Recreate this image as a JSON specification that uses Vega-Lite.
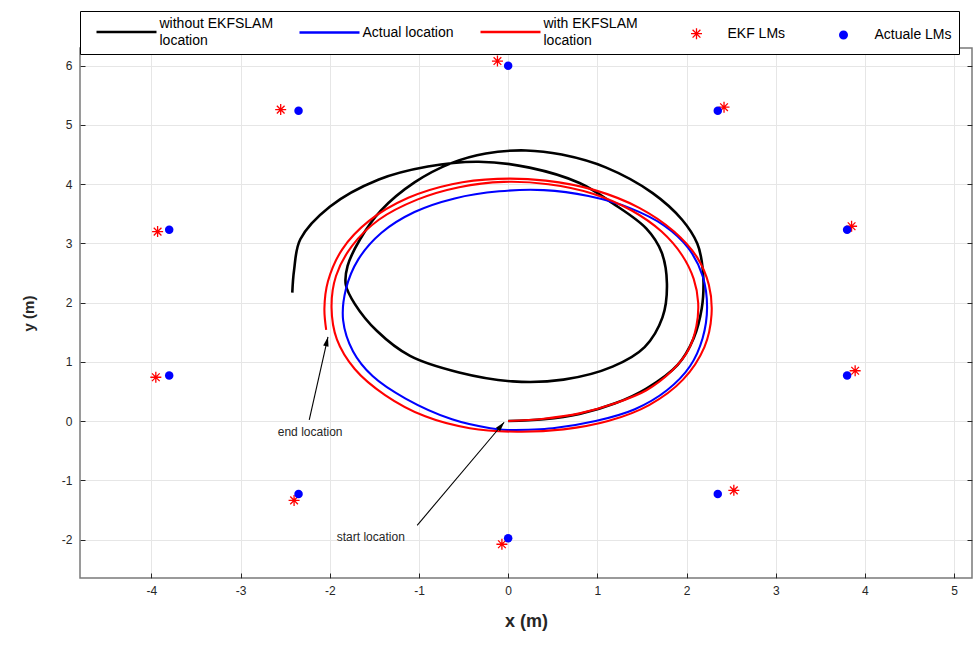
{
  "$schema": "https://vega.github.io/schema/vega-lite/v6.json",
  "width": 892,
  "height": 530,
  "autosize": {"type": "none"},
  "padding": {"left": 80, "top": 48, "right": 7, "bottom": 70},
  "background": "white",
  "config": {
    "font": "Liberation Sans",
    "view": {"stroke": "#7a7a7a", "strokeWidth": 1.5},
    "axis": {
      "labelFont": "Liberation Sans",
      "labelFontSize": 12,
      "labelColor": "#262626",
      "labelExpr": "'' + datum.value",
      "tickColor": "#262626",
      "tickSize": -5,
      "tickWidth": 1,
      "domain": false,
      "gridColor": "#e6e6e6",
      "gridWidth": 1,
      "titleFont": "Liberation Sans",
      "titleColor": "#262626",
      "titleFontWeight": "bold"
    }
  },
  "datasets": {
    "traj": [
      {"series": "without EKFSLAM location", "i": 0, "x": 0.0, "y": 0.0},
      {"series": "without EKFSLAM location", "i": 1, "x": 0.4, "y": 0.03},
      {"series": "without EKFSLAM location", "i": 2, "x": 0.8, "y": 0.12},
      {"series": "without EKFSLAM location", "i": 3, "x": 1.2, "y": 0.3},
      {"series": "without EKFSLAM location", "i": 4, "x": 1.55, "y": 0.55},
      {"series": "without EKFSLAM location", "i": 5, "x": 1.9, "y": 0.95},
      {"series": "without EKFSLAM location", "i": 6, "x": 2.08, "y": 1.4},
      {"series": "without EKFSLAM location", "i": 7, "x": 2.17, "y": 1.9},
      {"series": "without EKFSLAM location", "i": 8, "x": 2.19, "y": 2.35},
      {"series": "without EKFSLAM location", "i": 9, "x": 2.17, "y": 2.7},
      {"series": "without EKFSLAM location", "i": 10, "x": 2.12, "y": 3.0},
      {"series": "without EKFSLAM location", "i": 11, "x": 1.95, "y": 3.4},
      {"series": "without EKFSLAM location", "i": 12, "x": 1.62, "y": 3.85},
      {"series": "without EKFSLAM location", "i": 13, "x": 1.1, "y": 4.28},
      {"series": "without EKFSLAM location", "i": 14, "x": 0.6, "y": 4.5},
      {"series": "without EKFSLAM location", "i": 15, "x": 0.2, "y": 4.57},
      {"series": "without EKFSLAM location", "i": 16, "x": -0.25, "y": 4.52},
      {"series": "without EKFSLAM location", "i": 17, "x": -0.63, "y": 4.36},
      {"series": "without EKFSLAM location", "i": 18, "x": -1.05, "y": 4.03},
      {"series": "without EKFSLAM location", "i": 19, "x": -1.43, "y": 3.55},
      {"series": "without EKFSLAM location", "i": 20, "x": -1.66, "y": 3.07},
      {"series": "without EKFSLAM location", "i": 21, "x": -1.8, "y": 2.62},
      {"series": "without EKFSLAM location", "i": 22, "x": -1.82, "y": 2.3},
      {"series": "without EKFSLAM location", "i": 23, "x": -1.72, "y": 1.98},
      {"series": "without EKFSLAM location", "i": 24, "x": -1.47, "y": 1.52},
      {"series": "without EKFSLAM location", "i": 25, "x": -1.1, "y": 1.1},
      {"series": "without EKFSLAM location", "i": 26, "x": -0.55, "y": 0.82},
      {"series": "without EKFSLAM location", "i": 27, "x": 0.05, "y": 0.67},
      {"series": "without EKFSLAM location", "i": 28, "x": 0.62, "y": 0.7},
      {"series": "without EKFSLAM location", "i": 29, "x": 1.17, "y": 0.92},
      {"series": "without EKFSLAM location", "i": 30, "x": 1.53, "y": 1.25},
      {"series": "without EKFSLAM location", "i": 31, "x": 1.73, "y": 1.75},
      {"series": "without EKFSLAM location", "i": 32, "x": 1.78, "y": 2.32},
      {"series": "without EKFSLAM location", "i": 33, "x": 1.72, "y": 2.85},
      {"series": "without EKFSLAM location", "i": 34, "x": 1.55, "y": 3.25},
      {"series": "without EKFSLAM location", "i": 35, "x": 1.17, "y": 3.68},
      {"series": "without EKFSLAM location", "i": 36, "x": 0.8, "y": 4.02},
      {"series": "without EKFSLAM location", "i": 37, "x": 0.24, "y": 4.28},
      {"series": "without EKFSLAM location", "i": 38, "x": -0.33, "y": 4.38},
      {"series": "without EKFSLAM location", "i": 39, "x": -0.9, "y": 4.3},
      {"series": "without EKFSLAM location", "i": 40, "x": -1.45, "y": 4.08},
      {"series": "without EKFSLAM location", "i": 41, "x": -2.0, "y": 3.62},
      {"series": "without EKFSLAM location", "i": 42, "x": -2.33, "y": 3.07},
      {"series": "without EKFSLAM location", "i": 43, "x": -2.4, "y": 2.55},
      {"series": "without EKFSLAM location", "i": 44, "x": -2.42, "y": 2.17},
      {"series": "Actual location", "i": 0, "x": 0.0, "y": -0.15},
      {"series": "Actual location", "i": 1, "x": 0.5, "y": -0.12},
      {"series": "Actual location", "i": 2, "x": 0.98, "y": 0.0},
      {"series": "Actual location", "i": 3, "x": 1.42, "y": 0.2},
      {"series": "Actual location", "i": 4, "x": 1.78, "y": 0.52},
      {"series": "Actual location", "i": 5, "x": 2.04, "y": 0.93},
      {"series": "Actual location", "i": 6, "x": 2.18, "y": 1.4},
      {"series": "Actual location", "i": 7, "x": 2.23, "y": 1.92},
      {"series": "Actual location", "i": 8, "x": 2.18, "y": 2.45},
      {"series": "Actual location", "i": 9, "x": 2.02, "y": 2.92},
      {"series": "Actual location", "i": 10, "x": 1.75, "y": 3.3},
      {"series": "Actual location", "i": 11, "x": 1.36, "y": 3.6},
      {"series": "Actual location", "i": 12, "x": 0.9, "y": 3.8},
      {"series": "Actual location", "i": 13, "x": 0.4, "y": 3.9},
      {"series": "Actual location", "i": 14, "x": -0.1, "y": 3.88},
      {"series": "Actual location", "i": 15, "x": -0.6, "y": 3.76},
      {"series": "Actual location", "i": 16, "x": -1.05, "y": 3.53},
      {"series": "Actual location", "i": 17, "x": -1.42, "y": 3.18},
      {"series": "Actual location", "i": 18, "x": -1.68, "y": 2.73},
      {"series": "Actual location", "i": 19, "x": -1.82, "y": 2.22},
      {"series": "Actual location", "i": 20, "x": -1.85, "y": 1.7},
      {"series": "Actual location", "i": 21, "x": -1.74, "y": 1.18},
      {"series": "Actual location", "i": 22, "x": -1.52, "y": 0.76},
      {"series": "Actual location", "i": 23, "x": -1.15, "y": 0.38},
      {"series": "Actual location", "i": 24, "x": -0.63, "y": 0.03},
      {"series": "Actual location", "i": 25, "x": -0.2, "y": -0.12},
      {"series": "Actual location", "i": 26, "x": 0.0, "y": -0.15},
      {"series": "with EKFSLAM location", "i": 0, "x": 0.0, "y": 0.0},
      {"series": "with EKFSLAM location", "i": 1, "x": 0.4, "y": 0.04},
      {"series": "with EKFSLAM location", "i": 2, "x": 0.8, "y": 0.13},
      {"series": "with EKFSLAM location", "i": 3, "x": 1.2, "y": 0.3},
      {"series": "with EKFSLAM location", "i": 4, "x": 1.55, "y": 0.52},
      {"series": "with EKFSLAM location", "i": 5, "x": 1.83, "y": 0.84},
      {"series": "with EKFSLAM location", "i": 6, "x": 2.02, "y": 1.2},
      {"series": "with EKFSLAM location", "i": 7, "x": 2.11, "y": 1.6},
      {"series": "with EKFSLAM location", "i": 8, "x": 2.13, "y": 2.0},
      {"series": "with EKFSLAM location", "i": 9, "x": 2.08, "y": 2.4},
      {"series": "with EKFSLAM location", "i": 10, "x": 1.95, "y": 2.8},
      {"series": "with EKFSLAM location", "i": 11, "x": 1.72, "y": 3.2},
      {"series": "with EKFSLAM location", "i": 12, "x": 1.38, "y": 3.56},
      {"series": "with EKFSLAM location", "i": 13, "x": 0.95, "y": 3.84},
      {"series": "with EKFSLAM location", "i": 14, "x": 0.45, "y": 4.0},
      {"series": "with EKFSLAM location", "i": 15, "x": -0.05, "y": 4.04},
      {"series": "with EKFSLAM location", "i": 16, "x": -0.55, "y": 3.95},
      {"series": "with EKFSLAM location", "i": 17, "x": -1.02, "y": 3.74},
      {"series": "with EKFSLAM location", "i": 18, "x": -1.45, "y": 3.4},
      {"series": "with EKFSLAM location", "i": 19, "x": -1.75, "y": 2.96},
      {"series": "with EKFSLAM location", "i": 20, "x": -1.93, "y": 2.45},
      {"series": "with EKFSLAM location", "i": 21, "x": -1.98, "y": 1.92},
      {"series": "with EKFSLAM location", "i": 22, "x": -1.92, "y": 1.38},
      {"series": "with EKFSLAM location", "i": 23, "x": -1.72, "y": 0.88},
      {"series": "with EKFSLAM location", "i": 24, "x": -1.38, "y": 0.44},
      {"series": "with EKFSLAM location", "i": 25, "x": -0.93, "y": 0.08},
      {"series": "with EKFSLAM location", "i": 26, "x": -0.43, "y": -0.12},
      {"series": "with EKFSLAM location", "i": 27, "x": 0.1, "y": -0.18},
      {"series": "with EKFSLAM location", "i": 28, "x": 0.62, "y": -0.14},
      {"series": "with EKFSLAM location", "i": 29, "x": 1.12, "y": 0.0},
      {"series": "with EKFSLAM location", "i": 30, "x": 1.58, "y": 0.27},
      {"series": "with EKFSLAM location", "i": 31, "x": 1.96, "y": 0.7},
      {"series": "with EKFSLAM location", "i": 32, "x": 2.2, "y": 1.25},
      {"series": "with EKFSLAM location", "i": 33, "x": 2.28, "y": 1.8},
      {"series": "with EKFSLAM location", "i": 34, "x": 2.25, "y": 2.3},
      {"series": "with EKFSLAM location", "i": 35, "x": 2.12, "y": 2.76},
      {"series": "with EKFSLAM location", "i": 36, "x": 1.86, "y": 3.2},
      {"series": "with EKFSLAM location", "i": 37, "x": 1.47, "y": 3.6},
      {"series": "with EKFSLAM location", "i": 38, "x": 0.97, "y": 3.9},
      {"series": "with EKFSLAM location", "i": 39, "x": 0.42, "y": 4.06},
      {"series": "with EKFSLAM location", "i": 40, "x": -0.12, "y": 4.09},
      {"series": "with EKFSLAM location", "i": 41, "x": -0.63, "y": 4.0},
      {"series": "with EKFSLAM location", "i": 42, "x": -1.12, "y": 3.77},
      {"series": "with EKFSLAM location", "i": 43, "x": -1.56, "y": 3.38},
      {"series": "with EKFSLAM location", "i": 44, "x": -1.86, "y": 2.9},
      {"series": "with EKFSLAM location", "i": 45, "x": -2.02, "y": 2.36},
      {"series": "with EKFSLAM location", "i": 46, "x": -2.06, "y": 1.9},
      {"series": "with EKFSLAM location", "i": 47, "x": -2.04, "y": 1.54}
    ],
    "lms": [
      {"series": "EKF LMs", "x": -0.12, "y": 6.08},
      {"series": "EKF LMs", "x": 2.42, "y": 5.3},
      {"series": "EKF LMs", "x": -2.55, "y": 5.26},
      {"series": "EKF LMs", "x": 3.85, "y": 3.29},
      {"series": "EKF LMs", "x": -3.93, "y": 3.2},
      {"series": "EKF LMs", "x": -3.95, "y": 0.74},
      {"series": "EKF LMs", "x": 3.89, "y": 0.85},
      {"series": "EKF LMs", "x": 2.53, "y": -1.17},
      {"series": "EKF LMs", "x": -2.4, "y": -1.34},
      {"series": "EKF LMs", "x": -0.07, "y": -2.08},
      {"series": "Actuale LMs", "x": 0.0, "y": 6.0},
      {"series": "Actuale LMs", "x": 2.35, "y": 5.24},
      {"series": "Actuale LMs", "x": -2.35, "y": 5.24},
      {"series": "Actuale LMs", "x": 3.8, "y": 3.23},
      {"series": "Actuale LMs", "x": -3.8, "y": 3.23},
      {"series": "Actuale LMs", "x": 3.8, "y": 0.77},
      {"series": "Actuale LMs", "x": -3.8, "y": 0.77},
      {"series": "Actuale LMs", "x": 2.35, "y": -1.23},
      {"series": "Actuale LMs", "x": -2.35, "y": -1.23},
      {"series": "Actuale LMs", "x": 0.0, "y": -1.98}
    ],
    "notes": [
      {"label": "end location", "x": -2.22, "y": -0.19},
      {"label": "start location", "x": -1.54, "y": -1.96}
    ],
    "arrows": [
      {"name": "end", "x": -2.23, "y": 0.02, "x2": -2.02, "y2": 1.42},
      {"name": "start", "x": -1.02, "y": -1.76, "x2": -0.045, "y2": -0.02}
    ]
  },
  "layer": [
    {
      "data": {"name": "traj"},
      "transform": [{"filter": "datum.series === 'without EKFSLAM location'"}],
      "mark": {"type": "line", "strokeWidth": 2.6, "interpolate": "catmull-rom", "clip": true},
      "encoding": {
        "x": {"field": "x", "type": "quantitative", "scale": {"domain": [-4.8, 5.2], "nice": false, "zero": false},
              "axis": {"orient": "bottom", "values": [-4, -3, -2, -1, 0, 1, 2, 3, 4, 5], "title": "x (m)", "titleFontSize": 18, "titlePadding": 16, "labelPadding": 12, "grid": true}},
        "y": {"field": "y", "type": "quantitative", "scale": {"domain": [-2.65, 6.3], "nice": false, "zero": false},
              "axis": {"orient": "left", "values": [-2, -1, 0, 1, 2, 3, 4, 5, 6], "title": "y (m)", "titleFontSize": 15, "titlePadding": 25, "labelPadding": 13, "grid": true}},
        "order": {"field": "i", "type": "quantitative"},
        "color": {
          "field": "series", "type": "nominal",
          "scale": {
            "domain": ["without EKFSLAM location", "Actual location", "with EKFSLAM location", "EKF LMs", "Actuale LMs"],
            "range": ["#000000", "#0000ff", "#ff0000", "#ff0000", "#0000ff"]
          },
          "legend": {
            "title": null,
            "orient": "top",
            "direction": "horizontal",
            "offset": -7,
            "padding": 6.5,
            "strokeColor": "#000000",
            "fillColor": "#ffffff",
            "symbolSize": 400,
            "labelOffset": 59,
            "columnPadding": 16,
            "labelFont": "Liberation Sans",
            "labelFontSize": 14,
            "labelColor": "#000000",
            "labelLimit": 300,
            "labelExpr": "datum.label === 'without EKFSLAM location' ? ['without EKFSLAM', 'location'] : datum.label === 'with EKFSLAM location' ? ['with EKFSLAM', 'location'] : datum.label",
            "encode": {
              "symbols": {
                "update": {
                  "shape": {"signal": "datum.value === 'EKF LMs' ? 'M3.5,-1.7M3.5,1.7M2.95,0.75L4.05,0.75M3.5,0.2L3.5,1.3M3.11,0.36L3.89,1.14M3.11,1.14L3.89,0.36' : datum.value === 'Actuale LMs' ? 'M3.5,-1.7M3.5,1.7M3.05,0.75A0.45,0.45,0,1,0,3.95,0.75A0.45,0.45,0,1,0,3.05,0.75Z' : 'M1.3,-1.7M1.3,1.7M0.3,0.75L6.3,0.75'"},
                  "size": {"value": 400},
                  "strokeWidth": {"signal": "datum.value === 'EKF LMs' ? 1.3 : datum.value === 'Actuale LMs' ? 0 : 2.5"},
                  "fill": {"signal": "datum.value === 'Actuale LMs' ? '#0000ff' : 'transparent'"},
                  "stroke": {"signal": "scale('color', datum.value)"},
                  "opacity": {"value": 1}
                }
              },
              "labels": {
                "update": {
                  "lineHeight": {"value": 17},
                  "dy": {"signal": "datum.value === 'without EKFSLAM location' || datum.value === 'with EKFSLAM location' ? -1 : 7.5"}
                }
              }
            }
          }
        }
      }
    },
    {
      "data": {"name": "traj"},
      "transform": [{"filter": "datum.series === 'Actual location'"}],
      "mark": {"type": "line", "strokeWidth": 2.1, "interpolate": "catmull-rom", "clip": true},
      "encoding": {
        "x": {"field": "x", "type": "quantitative", "axis": null},
        "y": {"field": "y", "type": "quantitative", "axis": null},
        "order": {"field": "i", "type": "quantitative"},
        "color": {"field": "series", "type": "nominal", "legend": null}
      }
    },
    {
      "data": {"name": "traj"},
      "transform": [{"filter": "datum.series === 'with EKFSLAM location'"}],
      "mark": {"type": "line", "strokeWidth": 2.1, "interpolate": "catmull-rom", "clip": true},
      "encoding": {
        "x": {"field": "x", "type": "quantitative", "axis": null},
        "y": {"field": "y", "type": "quantitative", "axis": null},
        "order": {"field": "i", "type": "quantitative"},
        "color": {"field": "series", "type": "nominal", "legend": null}
      }
    },
    {
      "data": {"name": "lms"},
      "transform": [{"filter": "datum.series === 'EKF LMs'"}],
      "mark": {"type": "point", "shape": "M-1,0L1,0M0,-1L0,1M-0.7,-0.7L0.7,0.7M-0.7,0.7L0.7,-0.7", "filled": false, "size": 121, "strokeWidth": 1.3, "opacity": 1},
      "encoding": {
        "x": {"field": "x", "type": "quantitative", "axis": {"orient": "top", "values": [-4, -3, -2, -1, 0, 1, 2, 3, 4, 5], "labels": false, "grid": false, "title": null}},
        "y": {"field": "y", "type": "quantitative", "axis": {"orient": "right", "values": [-2, -1, 0, 1, 2, 3, 4, 5, 6], "labels": false, "grid": false, "title": null}},
        "color": {"field": "series", "type": "nominal", "legend": null}
      }
    },
    {
      "data": {"name": "lms"},
      "transform": [{"filter": "datum.series === 'Actuale LMs'"}],
      "mark": {"type": "circle", "size": 72, "opacity": 1},
      "encoding": {
        "x": {"field": "x", "type": "quantitative", "axis": null},
        "y": {"field": "y", "type": "quantitative", "axis": null},
        "color": {"field": "series", "type": "nominal", "legend": null}
      }
    },
    {
      "data": {"name": "arrows"},
      "mark": {"type": "rule", "color": "#000000", "strokeWidth": 1.1},
      "encoding": {
        "x": {"field": "x", "type": "quantitative", "axis": null},
        "y": {"field": "y", "type": "quantitative", "axis": null},
        "x2": {"field": "x2"},
        "y2": {"field": "y2"}
      }
    },
    {
      "data": {"name": "arrows"},
      "transform": [{"filter": "datum.name === 'end'"}],
      "mark": {"type": "point", "shape": "M0,0L-0.55,1.9L0.55,1.9Z", "filled": true, "size": 100, "color": "#000000", "angle": 13, "opacity": 1},
      "encoding": {
        "x": {"field": "x2", "type": "quantitative", "axis": null},
        "y": {"field": "y2", "type": "quantitative", "axis": null}
      }
    },
    {
      "data": {"name": "arrows"},
      "transform": [{"filter": "datum.name === 'start'"}],
      "mark": {"type": "point", "shape": "M0,0L-0.55,1.9L0.55,1.9Z", "filled": true, "size": 100, "color": "#000000", "angle": 40, "opacity": 1},
      "encoding": {
        "x": {"field": "x2", "type": "quantitative", "axis": null},
        "y": {"field": "y2", "type": "quantitative", "axis": null}
      }
    },
    {
      "data": {"name": "notes"},
      "mark": {"type": "text", "fontSize": 12, "color": "#262626", "font": "Liberation Sans", "align": "center", "baseline": "middle"},
      "encoding": {
        "x": {"field": "x", "type": "quantitative", "axis": null},
        "y": {"field": "y", "type": "quantitative", "axis": null},
        "text": {"field": "label"}
      }
    }
  ]
}
